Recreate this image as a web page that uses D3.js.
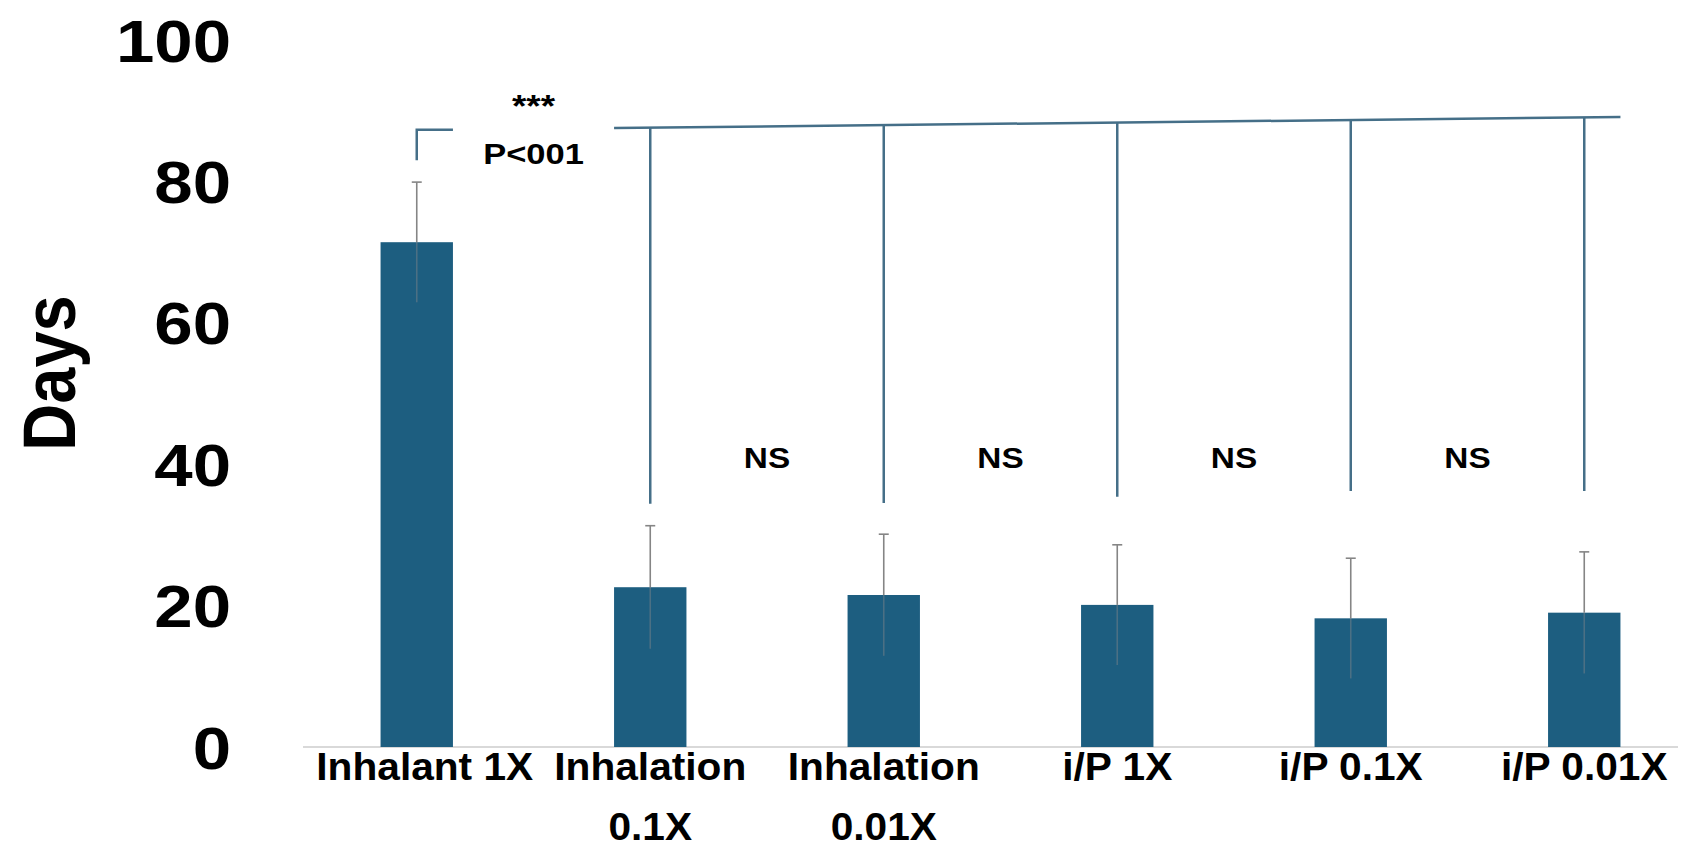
<!DOCTYPE html>
<html>
<head>
<meta charset="utf-8">
<script src="https://cdn.jsdelivr.net/npm/d3@7/dist/d3.min.js"></script>
<style>
  html, body { margin: 0; padding: 0; background: #ffffff; }
  svg { display: block; }
  text { font-family: "Liberation Sans", Arial, sans-serif; font-weight: bold; fill: #000; }
</style>
</head>
<body>
<svg id="chart" width="1683" height="853"></svg>
<script>
// ---- data ----
const categories = ["Inhalant 1X", "Inhalation 0.1X", "Inhalation 0.01X", "i/P 1X", "i/P 0.1X", "i/P 0.01X"];
const labelLines = [["Inhalant 1X"], ["Inhalation", "0.1X"], ["Inhalation", "0.01X"], ["i/P 1X"], ["i/P 0.1X"], ["i/P 0.01X"]];
const means = [71.4, 22.6, 21.5, 20.1, 18.2, 19.0];
const sds = [8.5, 8.7, 8.6, 8.5, 8.5, 8.6];
const yTicks = [0, 20, 40, 60, 80, 100];
const yLabel = "Days";
// significance annotation (values in Days)
const sigStars = "***";
const sigText = "P<001";
const leftBracketTop = 87.3, leftBracketBottom = 83.0;
const mainBracketStart = 87.55, mainBracketEnd = 89.1;
const dropBottoms = [34.4, 34.5, 35.4, 36.2, 36.2]; // for categories 2..6
const nsLabels = ["NS", "NS", "NS", "NS"];
const nsLevel = 41.0;

// ---- layout ----
const svg = d3.select("#chart");
const stretch = 1.15;
const xStretch = 1.07;
const barColor = "#1d5e80";
const bracketColor = "#456f88";

const x = d3.scaleBand().domain(categories).range([300, 1701]).paddingInner(0.69).paddingOuter(0.345);
const y = d3.scaleLinear().domain([0, 100]).range([747, 40]);
const cx = c => x(c) + x.bandwidth() / 2;

// baseline axis
svg.append("line")
  .attr("x1", 303).attr("x2", 1678)
  .attr("y1", y(0)).attr("y2", y(0))
  .attr("stroke", "#d9d9d9").attr("stroke-width", 2);

// bars
svg.append("g").selectAll("rect").data(categories).join("rect")
  .attr("x", d => x(d))
  .attr("width", x.bandwidth())
  .attr("y", (d, i) => y(means[i]))
  .attr("height", (d, i) => y(0) - y(means[i]))
  .attr("fill", barColor);

// error bars
const eg = svg.append("g");
categories.forEach((c, i) => {
  eg.append("line")
    .attr("x1", cx(c)).attr("x2", cx(c))
    .attr("y1", y(means[i] + sds[i])).attr("y2", y(means[i]))
    .attr("stroke", "#858585").attr("stroke-width", 1.6);
  eg.append("line")
    .attr("x1", cx(c)).attr("x2", cx(c))
    .attr("y1", y(means[i])).attr("y2", y(means[i] - sds[i]))
    .attr("stroke", "#6b7c88").attr("stroke-width", 1.6).attr("opacity", 0.6);
  eg.append("line")
    .attr("x1", cx(c) - 5).attr("x2", cx(c) + 5)
    .attr("y1", y(means[i] + sds[i])).attr("y2", y(means[i] + sds[i]))
    .attr("stroke", "#858585").attr("stroke-width", 1.6);
});

// y tick labels
svg.append("g").selectAll("text").data(yTicks).join("text")
  .attr("transform", d => `translate(231,${y(d)}) scale(${stretch},1)`)
  .attr("text-anchor", "end")
  .attr("dy", "0.36em")
  .attr("font-size", 60)
  .text(d => d);

// y axis title
svg.append("text")
  .attr("transform", `translate(48,373) scale(${stretch},1) rotate(-90)`)
  .attr("text-anchor", "middle")
  .attr("dy", "0.36em")
  .attr("font-size", 65)
  .text(yLabel);

// x labels
const xl = svg.append("g");
categories.forEach((c, i) => {
  const lx = cx(c) + (i === 0 ? 8 : 0);
  labelLines[i].forEach((line, j) => {
    xl.append("text")
      .attr("transform", `translate(${lx},${780 + j * 60}) scale(${xStretch},1)`)
      .attr("text-anchor", "middle")
      .attr("font-size", 38)
      .text(line);
  });
});

// brackets
const bg = svg.append("g").attr("stroke", bracketColor).attr("stroke-width", 2.5).attr("fill", "none");
const c0 = categories[0];
bg.append("path")
  .attr("d", `M${cx(c0)},${y(leftBracketBottom)} L${cx(c0)},${y(leftBracketTop)} L${x(c0) + x.bandwidth()},${y(leftBracketTop)}`);
const xs = x(categories[1]);
const xe = x(categories[5]) + x.bandwidth();
const lineY = xx => y(mainBracketStart + (mainBracketEnd - mainBracketStart) * (xx - xs) / (xe - xs));
bg.append("line")
  .attr("x1", xs).attr("y1", lineY(xs))
  .attr("x2", xe).attr("y2", lineY(xe));
categories.slice(1).forEach((c, k) => {
  bg.append("line")
    .attr("x1", cx(c)).attr("x2", cx(c))
    .attr("y1", lineY(cx(c))).attr("y2", y(dropBottoms[k]));
});

// significance texts
const midLeft = (cx(categories[0]) + cx(categories[1])) / 2;
svg.append("text")
  .attr("transform", `translate(${midLeft},${y(92.3)}) scale(${stretch},1)`)
  .attr("text-anchor", "middle").attr("dy", "0.7em")
  .attr("font-size", 32).text(sigStars);
svg.append("text")
  .attr("transform", `translate(${midLeft},${y(84.0)}) scale(${stretch},1)`)
  .attr("text-anchor", "middle").attr("dy", "0.36em")
  .attr("font-size", 30).text(sigText);

svg.append("g").selectAll("text").data(nsLabels).join("text")
  .attr("transform", (d, k) => {
    const m = (cx(categories[k + 1]) + cx(categories[k + 2])) / 2;
    return `translate(${m},${y(nsLevel)}) scale(${stretch},1)`;
  })
  .attr("text-anchor", "middle").attr("dy", "0.36em")
  .attr("font-size", 29).text(d => d);
</script>
</body>
</html>
